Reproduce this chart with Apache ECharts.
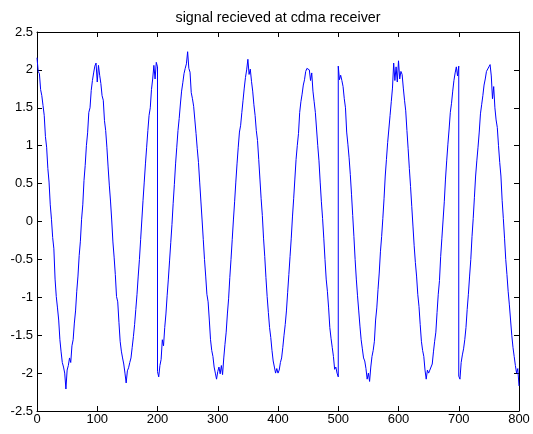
<!DOCTYPE html>
<html>
<head>
<meta charset="utf-8">
<script src="https://cdn.jsdelivr.net/npm/echarts@6/dist/echarts.min.js"></script>
<style>
  html, body { margin: 0; padding: 0; background: #ffffff; }
  #chart { width: 533px; height: 434px; }
</style>
</head>
<body>
<div id="chart"></div>
<script>
// Received samples, one value every 2 samples; each block starts where the
// spreading chip changes sign, so consecutive blocks meet with a vertical jump.
const sampleStep = 2;
const blockStarts = [0, 200, 500, 700];

const block0 = [
  2.16, 1.98, 1.95, 1.74, 1.66, 1.53, 1.40, 1.12, 0.98, 0.70,
  0.52, 0.22, 0.03, -0.21, -0.36, -0.76, -0.99, -1.14, -1.30, -1.56,
  -1.72, -1.86, -1.92, -2.00, -2.21, -1.96, -1.90, -1.80, -1.86, -1.64,
  -1.56, -1.34, -1.18, -0.92, -0.72, -0.45, -0.26, 0.03, 0.22, 0.54,
  0.74, 1.00, 1.17, 1.44, 1.50, 1.73, 1.86, 1.96, 2.05, 2.09,
  1.84, 2.06, 1.93, 1.82, 1.66, 1.60, 1.33, 1.20, 0.98, 0.72,
  0.48, 0.27, 0.02, -0.27, -0.47, -0.70, -0.99, -1.06, -1.33, -1.58,
  -1.71, -1.80, -1.88, -2.00, -2.13, -1.97, -1.93, -1.86, -1.80, -1.66,
  -1.52, -1.36, -1.16, -0.96, -0.72, -0.50, -0.24, 0.02, 0.28, 0.52,
  0.76, 0.98, 1.20, 1.40, 1.50, 1.74, 1.88, 2.06, 1.88, 2.10,
  2.04
];

const block1 = [
  -1.98, -2.05, -1.90, -1.82, -1.56, -1.64, -1.40, -1.22, -0.98, -0.76,
  -0.52, -0.28, -0.04, 0.24, 0.49, 0.76, 0.98, 1.20, 1.36, 1.55,
  1.72, 1.83, 1.95, 2.02, 2.08, 2.24, 2.02, 1.97, 1.70, 1.62,
  1.52, 1.34, 1.16, 0.96, 0.78, 0.52, 0.27, 0.02, -0.24, -0.50,
  -0.72, -0.96, -1.06, -1.30, -1.56, -1.70, -1.78, -1.92, -2.00, -2.08,
  -1.98, -1.92, -2.01, -1.90, -2.02, -1.80, -1.62, -1.46, -1.22, -1.02,
  -0.74, -0.50, -0.24, 0.02, 0.26, 0.52, 0.76, 0.98, 1.18, 1.27,
  1.44, 1.60, 1.76, 1.90, 2.00, 2.14, 1.94, 2.01, 1.85, 1.72,
  1.54, 1.40, 1.20, 1.07, 0.82, 0.56, 0.30, 0.08, -0.22, -0.46,
  -0.74, -0.99, -1.20, -1.40, -1.53, -1.70, -1.84, -1.92, -2.00, -1.94,
  -2.00, -1.96, -1.86, -1.80, -1.66, -1.50, -1.36, -1.18, -0.94, -0.70,
  -0.46, -0.22, 0.06, 0.30, 0.56, 0.82, 1.00, 1.16, 1.44, 1.58,
  1.68, 1.80, 1.87, 1.98, 2.02, 2.03, 2.00, 1.86, 1.96, 1.72,
  1.58, 1.44, 1.22, 1.00, 0.80, 0.52, 0.26, 0.04, -0.22, -0.50,
  -0.76, -0.92, -1.14, -1.40, -1.54, -1.66, -1.78, -1.95, -1.92, -2.00,
  -2.05
];

const block2 = [
  2.05, 1.87, 1.93, 1.86, 1.78, 1.62, 1.50, 1.18, 1.02, 0.84,
  0.62, 0.36, 0.08, -0.20, -0.50, -0.76, -0.98, -1.18, -1.38, -1.56,
  -1.68, -1.80, -1.84, -1.94, -2.08, -2.00, -2.11, -1.92, -1.78, -1.70,
  -1.58, -1.30, -1.14, -0.90, -0.68, -0.40, -0.20, 0.04, 0.30, 0.60,
  0.82, 1.04, 1.22, 1.40, 1.58, 1.76, 2.09, 1.86, 2.04, 1.84,
  2.12, 1.88, 1.98, 1.94, 1.76, 1.60, 1.46, 1.20, 0.96, 0.70,
  0.46, 0.20, -0.06, -0.32, -0.54, -0.72, -0.96, -1.12, -1.36, -1.58,
  -1.70, -1.78, -1.96, -2.08, -1.96, -2.00, -1.96, -1.98, -1.88, -1.72,
  -1.58, -1.46, -1.20, -0.96, -0.78, -0.46, -0.22, 0.02, 0.26, 0.56,
  0.80, 1.02, 1.22, 1.44, 1.56, 1.72, 1.86, 1.96, 2.04, 1.92,
  2.05
];

const block3 = [
  -2.04, -2.08, -1.86, -1.76, -1.68, -1.56, -1.40, -1.16, -0.96, -0.72,
  -0.50, -0.20, 0.04, 0.32, 0.60, 0.80, 0.98, 1.18, 1.42, 1.54,
  1.66, 1.80, 1.88, 1.98, 2.00, 2.04, 2.07, 1.92, 1.62, 1.78,
  1.50, 1.34, 1.24, 1.00, 0.78, 0.60, 0.28, 0.04, -0.22, -0.50,
  -0.70, -0.92, -1.10, -1.30, -1.50, -1.66, -1.78, -1.90, -2.00, -1.94,
  -2.17
];

const blocks = [block0, block1, block2, block3];

const chartTitle = 'signal recieved at cdma receiver';
const xMin = 0, xMax = 800, xStep = 100;
const yMin = -2.5, yMax = 2.5, yStep = 0.5;

const signal = [];
blocks.forEach(function (vals, b) {
  vals.forEach(function (v, j) {
    signal.push([blockStarts[b] + j * sampleStep, v]);
  });
});

const font = "'Liberation Sans', Arial, Helvetica, sans-serif";
const boxLine = { show: true, onZero: false, lineStyle: { color: '#000000', width: 1 } };
const inTicks = { show: true, inside: true, length: 5, lineStyle: { color: '#000000', width: 1 } };

const chart = echarts.init(document.getElementById('chart'), null, { renderer: 'canvas' });
chart.setOption({
  animation: false,
  backgroundColor: '#ffffff',
  title: {
    text: chartTitle,
    left: 278,
    top: 11,
    padding: 0,
    textAlign: 'center',
    textStyle: { fontFamily: font, fontSize: 14.3, fontWeight: 'normal', color: '#000000' }
  },
  grid: { left: 37, top: 32, width: 482, height: 379, containLabel: false },
  xAxis: [
    {
      type: 'value', min: xMin, max: xMax, interval: xStep, position: 'bottom',
      axisLine: boxLine, axisTick: inTicks, splitLine: { show: false },
      axisLabel: { color: '#000000', fontFamily: font, fontSize: 13, margin: 2 }
    },
    {
      type: 'value', min: xMin, max: xMax, interval: xStep, position: 'top',
      axisLine: boxLine, axisTick: inTicks, splitLine: { show: false },
      axisLabel: { show: false }
    }
  ],
  yAxis: [
    {
      type: 'value', min: yMin, max: yMax, interval: yStep, position: 'left',
      axisLine: boxLine, axisTick: inTicks, splitLine: { show: false },
      axisLabel: { color: '#000000', fontFamily: font, fontSize: 13, margin: 4 }
    },
    {
      type: 'value', min: yMin, max: yMax, interval: yStep, position: 'right',
      axisLine: boxLine, axisTick: inTicks, splitLine: { show: false },
      axisLabel: { show: false }
    }
  ],
  series: [
    {
      type: 'line',
      xAxisIndex: 0,
      yAxisIndex: 0,
      data: signal,
      showSymbol: false,
      symbol: 'none',
      lineStyle: { color: '#0000ff', width: 1 },
      silent: true
    }
  ]
});
</script>
</body>
</html>
